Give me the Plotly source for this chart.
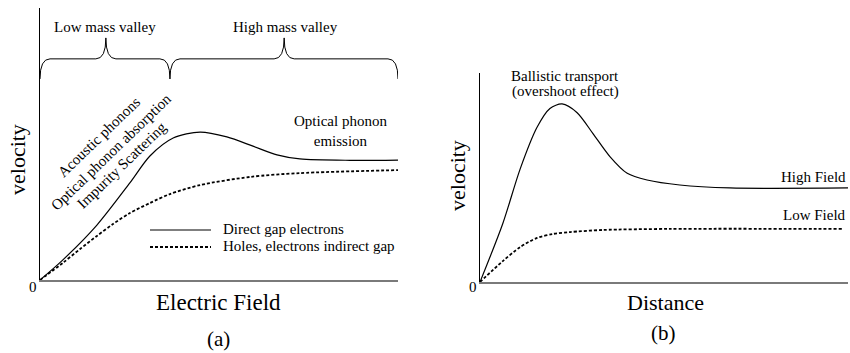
import plotly.graph_objects as go

W, H = 850, 353
FONT = "Liberation Serif"

# ---- panel (a): velocity vs electric field (arbitrary units) ----
field_direct = [0, 0.64, 1.59, 2.51, 3.07, 3.72, 4.47, 5.22, 5.95, 6.62, 7.26, 8.66, 10]
v_direct = [0, 0.074, 0.202, 0.357, 0.456, 0.522, 0.544, 0.526, 0.492, 0.46, 0.445, 0.44, 0.441]
field_indirect = [0, 0.64, 1.12, 1.59, 2.04, 2.51, 3.07, 3.63, 4.47, 5.87, 7.26, 10]
v_indirect = [0, 0.063, 0.114, 0.162, 0.206, 0.246, 0.283, 0.316, 0.349, 0.379, 0.393, 0.404]
series_a = ["Direct gap electrons", "Holes, electrons indirect gap"]

valley_names = ["Low mass valley", "High mass valley"]
valley_start = [0, 3.63]
valley_end = [3.63, 10]
valley_tip = [1.84, 6.82]

scatter_labels = ["Acoustic phonons", "Optical phonon absorption", "Impurity Scattering"]

# ---- panel (b): velocity vs distance ----
dist_high = [0, 0.62, 1.09, 1.55, 1.9, 2.23, 2.64, 3.07, 3.53, 4.0, 4.54, 5.43, 6.79, 10]
v_high = [0, 0.28, 0.54, 0.74, 0.83, 0.852, 0.81, 0.71, 0.6, 0.52, 0.488, 0.464, 0.45, 0.45]
dist_low = [0, 0.62, 1.09, 1.55, 1.98, 2.45, 3.34, 5.16, 9.86]
v_low = [0, 0.1, 0.167, 0.211, 0.23, 0.239, 0.249, 0.254, 0.254]
series_b = ["High Field", "Low Field"]


def P(x, y):
    # pixel position -> paper coordinates
    return x / W, 1 - y / H


fig = go.Figure()

line_solid = dict(color="black", width=1.2, shape="spline", smoothing=0.8)
line_dash = dict(color="black", width=1.8, dash="3px,2px", shape="spline", smoothing=0.8)

fig.add_trace(go.Scatter(x=field_direct, y=v_direct, mode="lines", line=line_solid,
                         name=series_a[0], xaxis="x", yaxis="y"))
fig.add_trace(go.Scatter(x=field_indirect, y=v_indirect, mode="lines", line=line_dash,
                         name=series_a[1], xaxis="x", yaxis="y"))
fig.add_trace(go.Scatter(x=dist_high, y=v_high, mode="lines", line=line_solid,
                         name=series_b[0], xaxis="x2", yaxis="y2"))
fig.add_trace(go.Scatter(x=dist_low, y=v_low, mode="lines", line=line_dash,
                         name=series_b[1], xaxis="x2", yaxis="y2"))

x_line = dict(showline=True, linecolor="#7a7a7a", linewidth=2, showgrid=False,
              zeroline=False, showticklabels=False, ticks="", range=[0, 10], fixedrange=True)
y_line = dict(showline=True, linecolor="black", linewidth=1.3, showgrid=False,
              zeroline=False, showticklabels=False, ticks="", range=[0, 1], fixedrange=True)

fig.update_layout(
    width=W, height=H, autosize=False,
    margin=dict(l=0, r=0, t=0, b=0),
    paper_bgcolor="white", plot_bgcolor="white",
    showlegend=False,
    font=dict(family=FONT, color="black", size=15),
    xaxis=dict(x_line, domain=[40 / W, 398 / W], anchor="y"),
    yaxis=dict(y_line, domain=[1 - 280 / H, 1 - 8 / H], anchor="x"),
    xaxis2=dict(x_line, domain=[480 / W, 848 / W], anchor="y2"),
    yaxis2=dict(y_line, domain=[1 - 282 / H, 1 - 73 / H], anchor="x2"),
)

# curly braces over the valleys
ye, ym, yt, rx = 0.739, 0.813, 0.890, 0.28
for name, xa, xb, xt in zip(valley_names, valley_start, valley_end, valley_tip):
    path = (f"M {xa},{ye} Q {xa},{ym} {xa + rx},{ym} L {xt - rx},{ym} "
            f"Q {xt},{ym} {xt},{yt} Q {xt},{ym} {xt + rx},{ym} "
            f"L {xb - rx},{ym} Q {xb},{ym} {xb},{ye}")
    fig.add_shape(type="path", path=path, xref="x", yref="y",
                  line=dict(color="black", width=1))


def ann(text, x, y, size=15, angle=0, xanchor="center"):
    px_, py_ = P(x, y)
    fig.add_annotation(text=text, x=px_, y=py_, xref="paper", yref="paper",
                       showarrow=False, textangle=angle, xanchor=xanchor,
                       yanchor="middle", borderpad=0,
                       font=dict(size=size, family=FONT, color="black"))


ann(valley_names[0], 105, 27)
ann(valley_names[1], 285, 27)
for lbl, (cx, cy) in zip(scatter_labels, [(99, 137), (111, 152), (122, 165)]):
    ann(lbl, cx, cy, angle=-44)
ann("Optical phonon<br>emission", 340, 131)

# legend of panel (a), drawn by hand to get long line samples
for i, (lbl, yy) in enumerate(zip(series_a, [230, 247])):
    x0, y0 = P(150, yy)
    x1, _ = P(211, yy)
    style = dict(color="black", width=1.2) if i == 0 else dict(color="black", width=1.8, dash="3px,2px")
    fig.add_shape(type="line", x0=x0, x1=x1, y0=y0, y1=y0, xref="paper", yref="paper", line=style)
    ann(lbl, 222, yy - 1, xanchor="left")

ann("0", 33, 287)
ann("velocity", 17, 160, size=22, angle=-90)
ann("Electric Field", 218, 302, size=23)
ann("(a)", 218, 339, size=21)

ann("Ballistic transport", 565, 76)
ann("(overshoot effect)", 565, 92)
ann(series_b[0], 847, 177, xanchor="right")
ann(series_b[1], 847, 215, xanchor="right")
ann("0", 473, 287)
ann("velocity", 457, 175, size=22, angle=-90)
ann("Distance", 665, 302, size=22)
ann("(b)", 663, 333, size=21)

# drop the default page margin so the figure fills the window exactly
fig.write_html("out.html", config={"displayModeBar": False},
               post_script="document.body.style.margin='0';document.body.style.overflow='hidden';")
